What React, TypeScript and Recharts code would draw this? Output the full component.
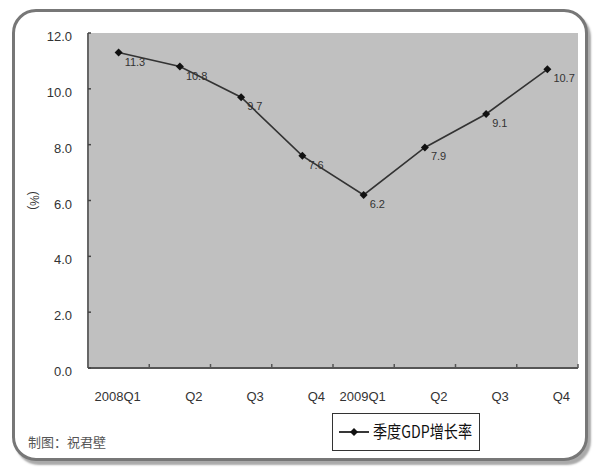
import { LineChart, Line, XAxis, YAxis, CartesianGrid, Legend, LabelList } from 'recharts';

const quarters = ['2008Q1', 'Q2', 'Q3', 'Q4', '2009Q1', 'Q2', 'Q3', 'Q4'];
const gdpGrowth = [11.3, 10.8, 9.7, 7.6, 6.2, 7.9, 9.1, 10.7];
const yTicks = [0, 2, 4, 6, 8, 10, 12];
const seriesName = '季度GDP增长率';

const data = quarters.map((q, i) => ({ key: `k${i}`, quarter: q, growth: gdpGrowth[i] }));

const W = 600;
const H = 476;
const M = { top: 33, right: 22, left: 28, bottom: 78 };
const Y_AXIS_W = 60;
const BAND = (W - M.left - M.right - Y_AXIS_W) / quarters.length;
const FONT = '"Liberation Sans", Arial, sans-serif';

const Diamond = (props: any) => {
  const { cx, cy } = props;
  if (cx == null || cy == null) return null;
  return <path d={`M${cx},${cy - 4}L${cx + 4},${cy}L${cx},${cy + 4}L${cx - 4},${cy}Z`} fill="#111" />;
};

const XTick = (props: any) => {
  const { x, y, payload } = props;
  const label = quarters[payload.index] ?? '';
  const shift = label.startsWith('Q') ? 14 : -1;
  return (
    <g>
      <line x1={x + BAND / 2} x2={x + BAND / 2} y1={y} y2={y - 4} stroke="#555" strokeWidth={1.5} />
      <text x={x + shift} y={y + 33} textAnchor="middle" fontSize={13} fontFamily={FONT} fill="#333">
        {label}
      </text>
    </g>
  );
};

const YTick = (props: any) => {
  const { x, y, payload } = props;
  return (
    <g>
      <line x1={x} x2={x + 3} y1={y} y2={y} stroke="#444" strokeWidth={1.5} />
      <text x={x - 16} y={y + 8} textAnchor="end" fontSize={13} fontFamily={FONT} fill="#333">
        {Number(payload.value).toFixed(1)}
      </text>
    </g>
  );
};

const ValueLabel = (props: any) => {
  const { x, y, value } = props;
  return (
    <text x={x + 6} y={y + 13} fontSize={11} fontFamily={FONT} fill="#333">
      {Number(value).toFixed(1)}
    </text>
  );
};

const LegendBox = () => (
  <div style={{ border: '1.5px solid #333', background: '#fff', width: 148, height: 38, boxSizing: 'border-box' }}>
    <svg width={145} height={35} style={{ display: 'block', overflow: 'visible' }}>
      <line x1={6} x2={36} y1={18} y2={18} stroke="#222" strokeWidth={1.8} />
      <Diamond cx={21} cy={18} />
      <text
        x={40}
        y={24}
        fontSize={17}
        fontFamily='"Noto Sans CJK SC", sans-serif'
        fill="#111"
        textLength={99}
        lengthAdjust="spacingAndGlyphs"
      >
        {seriesName}
      </text>
    </svg>
  </div>
);

export default function App() {
  return (
    <div style={{ position: 'absolute', left: 0, top: 0, width: W, height: H, background: '#fff' }}>
      <div
        style={{
          position: 'absolute',
          left: 12,
          top: 9,
          width: 576,
          height: 452,
          boxSizing: 'border-box',
          border: '3px solid #777',
          borderRadius: 24,
          boxShadow: '3px 4px 2px #aaa',
          background: '#fff',
        }}
      />
      <div style={{ position: 'absolute', left: 0, top: 0 }}>
        <LineChart width={W} height={H} data={data} margin={M}>
          <CartesianGrid horizontal={false} vertical={false} fill="#c0c0c0" />
          <XAxis
            dataKey="key"
            scale="band"
            tick={<XTick />}
            tickLine={false}
            tickSize={0}
            tickMargin={0}
            axisLine={{ stroke: '#555', strokeWidth: 2 }}
            height={30}
            interval={0}
          />
          <YAxis
            domain={[0, 12]}
            ticks={yTicks}
            width={Y_AXIS_W}
            tick={<YTick />}
            tickLine={false}
            tickSize={0}
            tickMargin={0}
            axisLine={{ stroke: '#666', strokeWidth: 2 }}
            label={{
              content: (p: any) => {
                const vb = p.viewBox;
                const cx = vb.x + 2;
                const cy = vb.y + vb.height / 2;
                return (
                  <text
                    x={cx}
                    y={cy}
                    transform={`rotate(90 ${cx} ${cy})`}
                    textAnchor="middle"
                    fontSize={12}
                    fontFamily={FONT}
                    fill="#333"
                  >
                    (%)
                  </text>
                );
              },
            }}
          />
          <Legend
            layout="horizontal"
            verticalAlign="middle"
            content={<LegendBox />}
            wrapperStyle={{ left: 332, top: 413, width: 150 }}
          />
          <Line
            dataKey="growth"
            name={seriesName}
            type="linear"
            stroke="#333"
            strokeWidth={1.6}
            dot={<Diamond />}
            activeDot={false}
            isAnimationActive={false}
          >
            <LabelList dataKey="growth" content={<ValueLabel />} />
          </Line>
        </LineChart>
      </div>
      <div
        style={{
          position: 'absolute',
          left: 28,
          top: 432,
          fontSize: 13,
          color: '#555',
          fontFamily: '"Noto Sans CJK SC", serif',
        }}
      >
        制图：祝君壁
      </div>
    </div>
  );
}
